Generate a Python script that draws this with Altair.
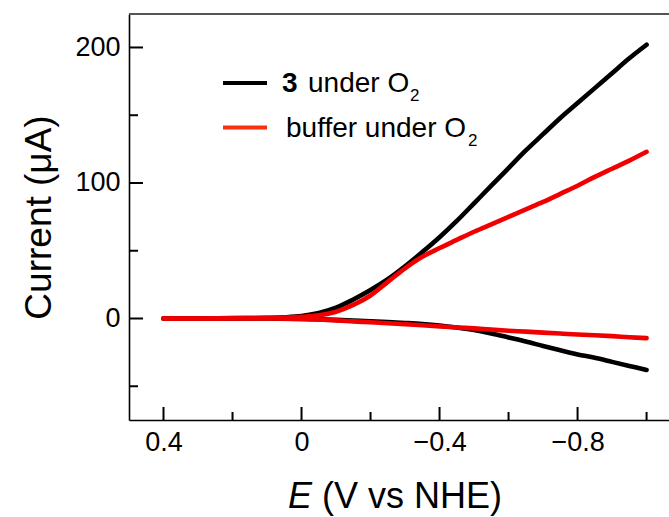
import altair as alt
import pandas as pd

# ---- data ----
E_fwd = [0.40, 0.30, 0.20, 0.10, 0.05, 0.00, -0.05, -0.10, -0.15, -0.20, -0.25, -0.30, -0.35,
         -0.40, -0.45, -0.50, -0.55, -0.60, -0.65, -0.70, -0.75, -0.80, -0.85, -0.90, -0.95, -1.00]
black_fwd = [0, 0, 0.3, 0.5, 0.9, 1.8, 4, 8, 14, 21, 29, 38.5, 49,
             60, 72, 85, 98, 111, 124, 136, 148, 159, 170, 181, 192, 202]
red_fwd = [0, 0, 0.2, 0.4, 0.7, 1.2, 2.3, 5, 10, 17, 27, 37, 45.5,
           52, 58, 64, 69.5, 75, 80.5, 86, 92, 98, 104.5, 110.5, 116.5, 123]

E_rev = [-1.00, -0.95, -0.90, -0.85, -0.80, -0.75, -0.70, -0.65, -0.60, -0.55, -0.50, -0.45, -0.40,
         -0.35, -0.30, -0.25, -0.20, -0.15, -0.10, -0.05, 0.00, 0.10, 0.20, 0.30, 0.40]
black_rev = [-38, -35, -32, -29, -26.5, -23.5, -20.3, -17, -14, -11, -8.5, -6.7, -5.2,
             -4.1, -3.3, -2.6, -2.0, -1.5, -1.0, -0.6, -0.3, 0, 0, 0, 0]
red_rev = [-14.5, -13.8, -13.0, -12.4, -11.8, -11.1, -10.4, -9.7, -9.0, -8.2, -7.3, -6.6, -5.8,
           -5.0, -4.3, -3.5, -2.8, -2.1, -1.4, -0.8, -0.3, 0, 0, 0, 0]

x_major = [0.4, 0.0, -0.4, -0.8]
x_minor = [0.2, -0.2, -0.6, -1.0]
y_major = [0, 100, 200]
y_minor = [-50, 50, 150]

FONT = "Liberation Sans"
W, H = 540, 406
BLACK = "#000000"
RED = "#f00000"


def loop(fwd, rev):
    rows = []
    i = 0
    for e, v in zip(E_fwd, fwd):
        rows.append({"E": e, "I": v, "idx": i, "branch": "fwd"}); i += 1
    for e, v in zip(E_rev, rev):
        rows.append({"E": e, "I": v, "idx": i, "branch": "rev"}); i += 1
    return pd.DataFrame(rows)


xscale = alt.Scale(domain=[-1.065, 0.5], reverse=True, nice=False, zero=False)
yscale = alt.Scale(domain=[-74.9, 224.7], nice=False, zero=False)

xaxis = alt.Axis(values=x_major, ticks=False, grid=False, title=None,
                 labelExpr="datum.value == 0 ? '0' : format(datum.value, '.1f')",
                 labelFontSize=27, labelFont=FONT, labelColor="#000", labelPadding=9,
                 domainColor="#000", domainWidth=1.6, labelFlush=False)
yaxis = alt.Axis(values=y_major, ticks=False, grid=False, title="Current (μA)",
                 labelFontSize=27, labelFont=FONT, labelColor="#000", labelPadding=9,
                 titleFontSize=37, titleFont=FONT, titleFontWeight="normal", titleColor="#000",
                 titlePadding=16, domainColor="#000", domainWidth=1.6)


def curve(df, color):
    return alt.Chart(df).mark_line(strokeWidth=4.6, strokeCap="round", strokeJoin="round",
                                   interpolate="catmull-rom", color=color).encode(
        x=alt.X("E:Q", scale=xscale, axis=xaxis),
        y=alt.Y("I:Q", scale=yscale, axis=yaxis),
        detail="branch:N",
        order="idx:Q",
    )


black = curve(loop(black_fwd, black_rev), BLACK)
red = curve(loop(red_fwd, red_rev), RED)

xmaj = alt.Chart(pd.DataFrame({"E": x_major})).mark_rule(color="#000", strokeWidth=2).encode(
    x=alt.X("E:Q", scale=xscale), y=alt.value(H), y2=alt.value(H - 13))
xmin = alt.Chart(pd.DataFrame({"E": x_minor})).mark_rule(color="#000", strokeWidth=2).encode(
    x=alt.X("E:Q", scale=xscale), y=alt.value(H), y2=alt.value(H - 8))
ymaj = alt.Chart(pd.DataFrame({"I": y_major})).mark_rule(color="#000", strokeWidth=2).encode(
    y=alt.Y("I:Q", scale=yscale), x=alt.value(0), x2=alt.value(14))
ymin = alt.Chart(pd.DataFrame({"I": y_minor})).mark_rule(color="#000", strokeWidth=2).encode(
    y=alt.Y("I:Q", scale=yscale), x=alt.value(0), x2=alt.value(9))

top = alt.Chart(pd.DataFrame({"a": [0]})).mark_rule(color="#555555", strokeWidth=2).encode(
    x=alt.value(0), x2=alt.value(W), y=alt.value(0))

# legend
leg_black = alt.Chart(pd.DataFrame({"a": [0]})).mark_rule(color=BLACK, strokeWidth=4).encode(
    x=alt.value(94), x2=alt.value(138), y=alt.value(69))
leg_red = alt.Chart(pd.DataFrame({"a": [0]})).mark_rule(color="#f83010", strokeWidth=4).encode(
    x=alt.value(94), x2=alt.value(138), y=alt.value(113.5))


def txt(s, x, y, size, align="left", weight="normal", style="normal"):
    return alt.Chart(pd.DataFrame({"t": [s]})).mark_text(
        align=align, baseline="alphabetic", font=FONT, fontSize=size,
        fontWeight=weight, fontStyle=style, color="#000").encode(
        text="t:N", x=alt.value(x), y=alt.value(y))


LS = 28
t1a = txt("3", 153, 78, LS, weight="bold")
t1b = txt("under O", 179, 78, LS)
t1s = txt("2", 281, 87, 17)
t2 = txt("buffer under O", 157, 122.7, LS)
t2s = txt("2", 339, 131.7, 17)

xt_e = txt("E", 183, 494, 36, align="right", style="italic")
xt_r = txt("(V vs NHE)", 193, 494, 36)

chart = alt.layer(
    top, xmaj, xmin, ymaj, ymin, black, red,
    leg_black, leg_red, t1a, t1b, t1s, t2, t2s, xt_e, xt_r
).properties(
    width=W, height=H,
    autosize=alt.AutoSizeParams(type="none"),
    padding={"left": 129, "top": 14, "right": 0, "bottom": 97},
).configure_view(stroke=None).configure(background="white")

chart.save("out.html", embed_options={"renderer": "svg", "actions": False})
